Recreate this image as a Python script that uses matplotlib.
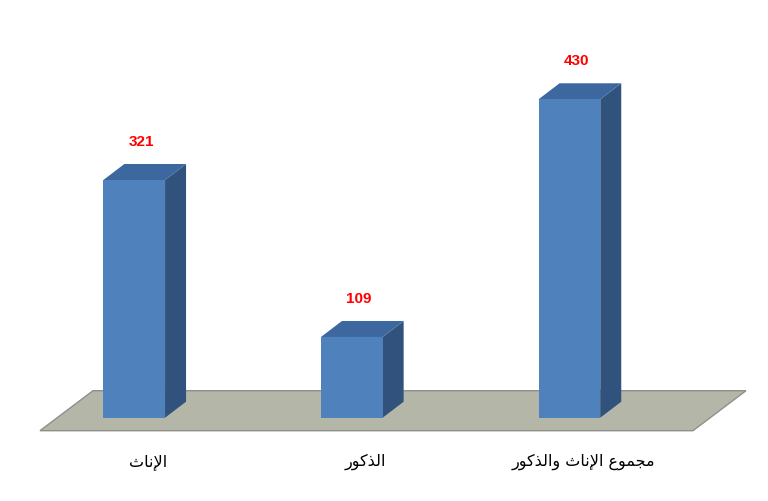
import matplotlib.pyplot as plt
from matplotlib.patches import Polygon

# Arabic labels written in presentation forms (logical order), reversed for display
cats_logical = [
    "\uFE8D\uFEF9\uFEE7\uFE8E\uFE99",                       # الإناث
    "\uFE8D\uFEDF\uFEAC\uFEDB\uFEEE\uFEAD",                 # الذكور
    "\uFEE3\uFEA0\uFEE4\uFEEE\uFEC9 \uFE8D\uFEF9\uFEE7\uFE8E\uFE99 "
    "\uFEED\uFE8D\uFEDF\uFEAC\uFEDB\uFEEE\uFEAD",           # مجموع الإناث والذكور
]
categories = [s[::-1] for s in cats_logical]
values = [321, 109, 430]

front_c = '#4f81bd'
top_c = '#3d689f'
side_c = '#30527c'
floor_c = '#b4b6a8'

W, H = 768, 501
fig = plt.figure(figsize=(W / 100, H / 100), dpi=100)
ax = fig.add_axes([0, 0, 1, 1])

# pixel -> data scale
xs = 217.6          # px per category
ys = 0.7405         # px per unit
x0_px, y0_px = 134.2, 83.3
ax.set_xlim(-x0_px / xs, (W - x0_px) / xs)
ax.set_ylim(-y0_px / ys, (H - y0_px) / ys)
ax.axis('off')

dx = 21 / xs
dy = 16 / ys
bw = 61.7 / xs

# floor
fdx, fdy = 53 / xs, 40 / ys
fl, fr = (40 - x0_px) / xs, (693 - x0_px) / xs
fy = -13 / ys
floor = Polygon([(fl, fy), (fr, fy), (fr + fdx, fy + fdy), (fl + fdx, fy + fdy)],
                closed=True, facecolor=floor_c, edgecolor='#8e908a', lw=1.0, zorder=1)
ax.add_patch(floor)

pos = list(range(len(values)))
ax.bar(pos, values, width=bw, color=front_c, zorder=3)

for x, v in zip(pos, values):
    l, r = x - bw / 2, x + bw / 2
    side = Polygon([(r, 0), (r + dx, dy), (r + dx, v + dy), (r, v)],
                   closed=True, facecolor=side_c, edgecolor='none', zorder=2)
    top = Polygon([(l, v), (r, v), (r + dx, v + dy), (l + dx, v + dy)],
                  closed=True, facecolor=top_c, edgecolor='none', zorder=2)
    ax.add_patch(side)
    ax.add_patch(top)
    ax.text(x + 7 / xs, v + 38 / ys, str(v), color='red', fontsize=11,
            fontweight='bold', ha='center', va='center',
            family=['Liberation Sans', 'DejaVu Sans'])
    ax.text(x + 14 / xs, -44.3 / ys, categories[x], fontsize=11.5,
            ha='center', va='center', family='DejaVu Sans')

fig.savefig('out.png', dpi=100)
